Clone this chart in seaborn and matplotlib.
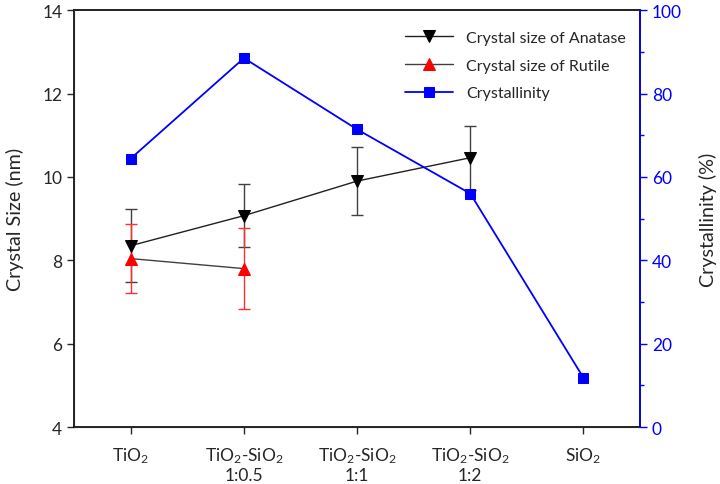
import numpy as np
import pandas as pd
import matplotlib
matplotlib.use("Agg")
import matplotlib.pyplot as plt
import seaborn as sns
from matplotlib.ticker import MultipleLocator

# data
samples = [r"TiO$_2$", "TiO$_2$-SiO$_2$\n1:0.5", "TiO$_2$-SiO$_2$\n1:1",
           "TiO$_2$-SiO$_2$\n1:2", r"SiO$_2$"]
anatase = [8.35, 9.07, 9.90, 10.46]
anatase_err = [0.88, 0.75, 0.82, 0.77]
rutile = [8.04, 7.80]
rutile_err = [0.82, 0.97]
crystallinity = [64.4, 88.5, 71.4, 56.0, 11.8]

sns.set_style("ticks")
plt.rcParams['font.family'] = ['Lato', 'DejaVu Sans']
plt.rcParams['mathtext.fontset'] = 'custom'
plt.rcParams['mathtext.rm'] = 'Lato'
plt.rcParams['mathtext.it'] = 'Lato:italic'
plt.rcParams['mathtext.default'] = 'regular'

pos = np.arange(len(samples))

fig = plt.figure(figsize=(7.2, 4.85), dpi=100)
ax = fig.add_axes([0.103, 0.1175, 0.786, 0.8595])

# error bars first so markers sit on top
ax.errorbar(pos[:4], anatase, yerr=anatase_err, fmt='none', ecolor='#404040',
            elinewidth=1, capsize=4, capthick=1, zorder=2)
ax.errorbar(pos[:2], rutile, yerr=rutile_err, fmt='none', ecolor='#ff3030',
            elinewidth=1, capsize=4, capthick=1, zorder=2)

sns.lineplot(x=pos[:4], y=anatase, ax=ax, color='#202020', linewidth=1,
             marker='v', markersize=9, markerfacecolor='black',
             markeredgecolor='black', label='Crystal size of Anatase', zorder=3)
sns.lineplot(x=pos[:2], y=rutile, ax=ax, color='#404040', linewidth=1,
             marker='^', markersize=9, markerfacecolor='red',
             markeredgecolor='red', label='Crystal size of Rutile', zorder=3)

ax.set_xlim(-0.5, 4.5)
ax.set_ylim(4, 14)
ax.set_xticks(pos)
ax.set_xticklabels(samples, fontsize=12.5, linespacing=1.15)
ax.yaxis.set_major_locator(MultipleLocator(2))
ax.tick_params(axis='y', labelsize=12.5, direction='out', length=5, width=1)
ax.tick_params(axis='x', direction='out', length=5, width=1, pad=8)
ax.set_ylabel("Crystal Size (nm)", fontsize=14.2, labelpad=13)
for s in ax.spines.values():
    s.set_linewidth(1.2)
    s.set_color('black')

ax2 = ax.twinx()
sns.lineplot(x=pos, y=crystallinity, ax=ax2, color='#0000ff', linewidth=1.3,
             marker='s', markersize=7, markerfacecolor='#0000ff',
             markeredgecolor='#0000ff', label='Crystallinity')
ax2.set_ylim(0, 100)
ax2.yaxis.set_major_locator(MultipleLocator(20))
ax2.yaxis.set_minor_locator(MultipleLocator(10))
ax2.tick_params(axis='y', which='major', colors='#0000ff', labelsize=12.5,
                direction='out', length=5, width=1)
ax2.tick_params(axis='y', which='minor', colors='#0000ff', direction='out',
                length=3, width=1)
ax2.set_ylabel("Crystallinity (%)", fontsize=14.2, labelpad=12)
ax2.spines['right'].set_color('#0000ff')
ax2.spines['right'].set_linewidth(1.2)
ax2.spines['top'].set_linewidth(1.2)

# combined legend
h1, l1 = ax.get_legend_handles_labels()
h2, l2 = ax2.get_legend_handles_labels()
ax.get_legend().remove()
ax2.get_legend().remove()
ax2.legend(h1 + h2, l1 + l2, loc='upper right', bbox_to_anchor=(1.0, 0.985),
           frameon=False, fontsize=11.5, handlelength=3, labelspacing=0.85)

fig.savefig("out.png", dpi=100)
